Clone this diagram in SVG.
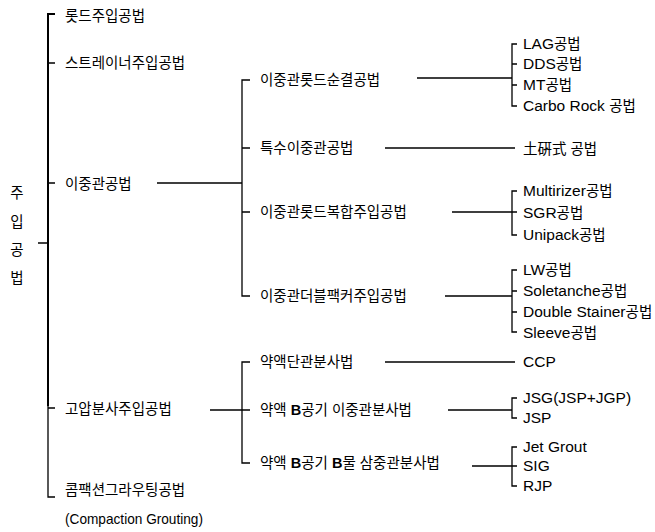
<svg xmlns="http://www.w3.org/2000/svg" width="655" height="532" viewBox="0 0 655 532">
<style>
text{font-family:"Liberation Sans","Noto Sans CJK KR",sans-serif;font-size:14.5px;fill:#000}
.l{font-size:15.5px}
.b{font-weight:bold}
.c path{fill:none;stroke:#000;stroke-width:1.3}
.c .thick{stroke-width:2}
.v{text-anchor:middle}
</style>
<rect width="655" height="532" fill="#fff"/>
<g class="c" id="connectors">
<path class="thick" d="M55,14H48V406"/>
<path d="M48,405V497H55M48,63H55M48,183H55M48,408H55M38,243H48"/>
<path d="M157,183H242M250,80H242V296H250M242,148H250M242,212H250"/>
<path d="M210,410H250M250,362H242V463H250"/>
<path d="M417,78H512M517,44H512V106H517M512,64H517M512,85H517"/>
<path d="M385,148H515"/>
<path d="M452,212H517M517,191H512V235H517"/>
<path d="M445,296H512M517,270H512V332H517M512,291H517M512,312H517"/>
<path d="M385,362H515"/>
<path d="M448,410H512M517,398H512V418H517"/>
<path d="M472,466H517M517,447H512V486H517"/>
</g>
<g id="root">
<text class="v" x="17" y="198">주</text>
<text class="v" x="17" y="227">입</text>
<text class="v" x="17" y="255">공</text>
<text class="v" x="17" y="283">법</text>
</g>
<g id="n-rod"><text x="65" y="21">롯드주입공법</text></g>
<g id="n-strainer"><text x="65" y="68">스트레이너주입공법</text></g>
<g id="n-double"><text x="65" y="189">이중관공법</text></g>
<g id="n-jet"><text x="65" y="414">고압분사주입공법</text></g>
<g id="n-compaction"><text x="65" y="495">콤팩션그라우팅공법</text><text x="65" y="524" textLength="138" lengthAdjust="spacingAndGlyphs">(Compaction Grouting)</text></g>
<g id="n-d1"><text x="260" y="85">이중관롯드순결공법</text></g>
<g id="n-d2"><text x="260" y="153">특수이중관공법</text></g>
<g id="n-d3"><text x="260" y="217">이중관롯드복합주입공법</text></g>
<g id="n-d4"><text x="260" y="301">이중관더블팩커주입공법</text></g>
<g id="n-j1"><text x="260" y="367">약액단관분사법</text></g>
<g id="n-j2"><text x="260" y="415">약액 <tspan class="b">B</tspan>공기 이중관분사법</text></g>
<g id="n-j3"><text x="260" y="468">약액 <tspan class="b">B</tspan>공기 <tspan class="b">B</tspan>물 삼중관분사법</text></g>
<g id="n-lag"><text x="523" y="49"><tspan class="l">LAG</tspan>공법</text></g>
<g id="n-dds"><text x="523" y="69"><tspan class="l">DDS</tspan>공법</text></g>
<g id="n-mt"><text x="523" y="90"><tspan class="l">MT</tspan>공법</text></g>
<g id="n-carbo"><text x="523" y="111"><tspan class="l">Carbo Rock </tspan>공법</text></g>
<g id="n-toyeon"><text x="523" y="154">土硏式 공법</text></g>
<g id="n-multi"><text x="523" y="196"><tspan class="l">Multirizer</tspan>공법</text></g>
<g id="n-sgr"><text x="523" y="218"><tspan class="l">SGR</tspan>공법</text></g>
<g id="n-unipack"><text x="523" y="240"><tspan class="l">Unipack</tspan>공법</text></g>
<g id="n-lw"><text x="523" y="275"><tspan class="l">LW</tspan>공법</text></g>
<g id="n-sole"><text x="523" y="296"><tspan class="l">Soletanche</tspan>공법</text></g>
<g id="n-ds"><text x="523" y="317"><tspan class="l">Double Stainer</tspan>공법</text></g>
<g id="n-sleeve"><text x="523" y="338"><tspan class="l">Sleeve</tspan>공법</text></g>
<g id="n-ccp"><text class="l" x="523" y="367">CCP</text></g>
<g id="n-jsg"><text class="l" x="523" y="403">JSG(JSP+JGP)</text></g>
<g id="n-jsp"><text class="l" x="523" y="423">JSP</text></g>
<g id="n-jetgrout"><text class="l" x="523" y="452">Jet Grout</text></g>
<g id="n-sig"><text class="l" x="523" y="471">SIG</text></g>
<g id="n-rjp"><text class="l" x="523" y="491">RJP</text></g>
</svg>
